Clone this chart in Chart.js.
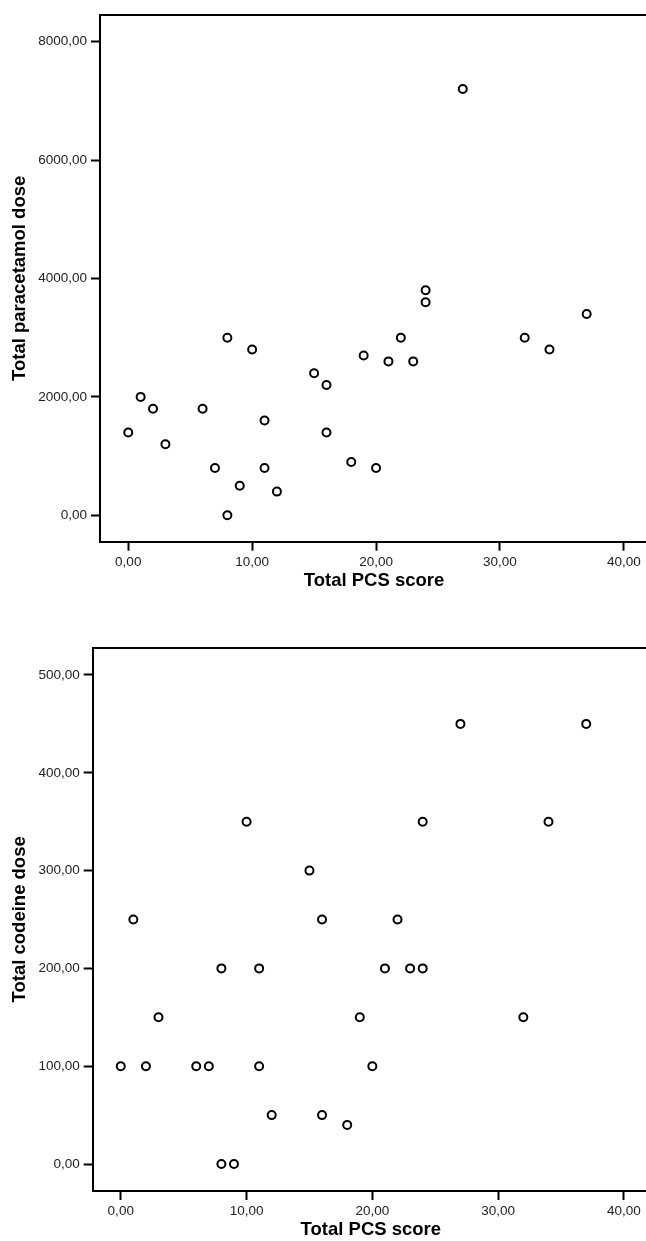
<!DOCTYPE html>
<html>
<head>
<meta charset="utf-8">
<script src="https://cdn.jsdelivr.net/npm/chart.js@4.4.1/dist/chart.umd.min.js"></script>
<style>
    html, body { margin: 0; padding: 0; background: #fff; }
    body { width: 646px; height: 1241px; overflow: hidden; position: relative; }
    .plot { position: absolute; left: 0; }
    #plot-top { top: 0; }
    #plot-bottom { top: 600px; }
</style>
</head>
<body>
<div class="plot" id="plot-top"><canvas id="paracetamol-chart" width="654" height="592"></canvas></div>
<div class="plot" id="plot-bottom"><canvas id="codeine-chart" width="655" height="641"></canvas></div>
<script>
// Values
const pcsScore = [0, 1, 2, 3, 6, 7, 8, 8, 9, 10, 11, 11, 12, 15, 16, 16, 18, 19, 20, 21, 22, 23, 24, 24, 27, 32, 34, 37];
const paracetamolDose = [1400, 2000, 1800, 1200, 1800, 800, 3000, 0, 500, 2800, 1600, 800, 400, 2400, 2200, 1400, 900, 2700, 800, 2600, 3000, 2600, 3800, 3600, 7200, 3000, 2800, 3400];
const codeineDose = [100, 250, 100, 150, 100, 100, 200, 0, 0, 350, 200, 100, 50, 300, 250, 50, 40, 150, 100, 200, 250, 200, 350, 200, 450, 150, 350, 450];

const pcsTicks = [0, 10, 20, 30, 40];
const paracetamolTicks = [0, 2000, 4000, 6000, 8000];
const codeineTicks = [0, 100, 200, 300, 400, 500];

const xTitle = 'Total PCS score';

let paracetamolChart, codeineChart; // Chart instances

function commaLabel(value) {
    return value.toFixed(2).replace('.', ',');
}

function toPoints(xs, ys) {
    return xs.map((x, i) => ({ x: x, y: ys[i] }));
}

function buildScatter(canvasId, yValues, setup) {
    const ctx = document.getElementById(canvasId).getContext('2d');
    const tickFont = { family: 'Liberation Sans, Arial, sans-serif', size: 13.5 };
    const titleFont = { family: 'Liberation Sans, Arial, sans-serif', size: 18.5, weight: 'bold', lineHeight: 1.2 };

    return new Chart(ctx, {
        type: 'scatter',
        data: {
            datasets: [
                {
                    data: toPoints(pcsScore, yValues),
                    pointStyle: 'circle',
                    pointRadius: 4,
                    pointHoverRadius: 4,
                    borderWidth: 2,
                    borderColor: '#000',
                    backgroundColor: '#fff',
                },
            ],
        },
        options: {
            responsive: false,
            animation: false,
            devicePixelRatio: 1,
            layout: { padding: { top: setup.top, left: 0, right: 0, bottom: 0 } },
            plugins: {
                legend: { display: false },
                tooltip: { enabled: false },
            },
            scales: {
                x: {
                    type: 'linear',
                    position: 'bottom',
                    min: setup.xMin,
                    max: setup.xMax,
                    afterBuildTicks: (scale) => { scale.ticks = pcsTicks.map(v => ({ value: v })); },
                    afterFit: (scale) => { scale.height = setup.xAxisHeight; },
                    border: { display: true, color: '#000', width: 2 },
                    grid: { drawOnChartArea: false, drawTicks: true, tickLength: 9, tickWidth: 2, tickColor: '#000' },
                    ticks: { color: '#222', font: tickFont, padding: 3, maxRotation: 0, callback: commaLabel },
                    title: { display: true, text: xTitle, color: '#000', font: titleFont, padding: { top: 0, bottom: 0 } },
                },
                xTop: {
                    type: 'linear',
                    position: 'top',
                    min: setup.xMin,
                    max: setup.xMax,
                    afterFit: (scale) => { scale.height = 0; },
                    border: { display: true, color: '#000', width: 2 },
                    grid: { display: false },
                    ticks: { display: false },
                },
                y: {
                    type: 'linear',
                    position: 'left',
                    min: setup.yMin,
                    max: setup.yMax,
                    afterBuildTicks: (scale) => { scale.ticks = setup.yTicks.map(v => ({ value: v })); },
                    afterFit: (scale) => { scale.width = setup.yAxisWidth; },
                    border: { display: true, color: '#000', width: 2 },
                    grid: { drawOnChartArea: false, drawTicks: true, tickLength: 9, tickWidth: 2, tickColor: '#000' },
                    ticks: { color: '#222', font: tickFont, padding: 4, callback: commaLabel },
                    title: { display: true, text: setup.yTitle, color: '#000', font: titleFont, padding: { top: 9, bottom: 0 } },
                },
            },
        },
    });
}

paracetamolChart = buildScatter('paracetamol-chart', paracetamolDose, {
    top: 15,
    yAxisWidth: 100,
    xAxisHeight: 50.3,
    xMin: -2.28,
    xMax: 41.95,
    yMin: -446,
    yMax: 8451,
    yTicks: paracetamolTicks,
    yTitle: 'Total paracetamol dose',
});

codeineChart = buildScatter('codeine-chart', codeineDose, {
    top: 47.7,
    yAxisWidth: 92.7,
    xAxisHeight: 50,
    xMin: -2.23,
    xMax: 41.99,
    yMin: -27.6,
    yMax: 527.9,
    yTicks: codeineTicks,
    yTitle: 'Total codeine dose',
});
</script>
</body>
</html>
